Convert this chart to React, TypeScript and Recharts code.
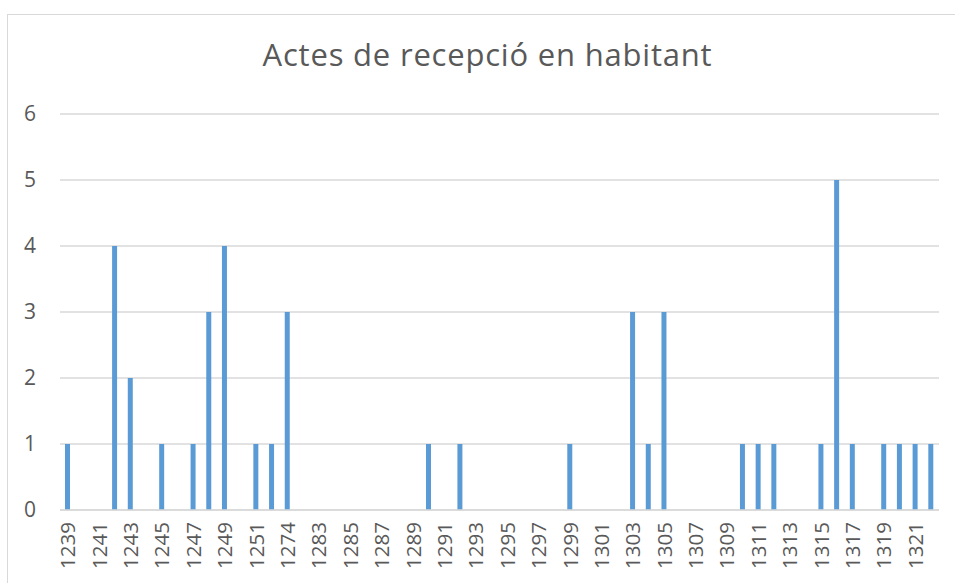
import React from "react";
import { BarChart, Bar, XAxis, YAxis, CartesianGrid } from "recharts";

const years = [
  "1239", "1240", "1241", "1242", "1243", "1244", "1245", "1246", "1247", "1248",
  "1249", "1250", "1251", "1253", "1274", "1282", "1283", "1284", "1285", "1286",
  "1287", "1288", "1289", "1290", "1291", "1292", "1293", "1294", "1295", "1296",
  "1297", "1298", "1299", "1300", "1301", "1302", "1303", "1304", "1305", "1306",
  "1307", "1308", "1309", "1310", "1311", "1312", "1313", "1314", "1315", "1316",
  "1317", "1318", "1319", "1320", "1321", "1322",
];
const counts = [
  1, 0, 0, 4, 2, 0, 1, 0, 1, 3,
  4, 0, 1, 1, 3, 0, 0, 0, 0, 0,
  0, 0, 0, 1, 0, 1, 0, 0, 0, 0,
  0, 0, 1, 0, 0, 0, 3, 1, 3, 0,
  0, 0, 0, 1, 1, 1, 0, 0, 1, 5,
  1, 0, 1, 1, 1, 1,
];
const yTicks = [0, 1, 2, 3, 4, 5, 6];
const title = "Actes de recepció en habitant";

const data = years.map((y, i) => ({ year: y, value: counts[i] }));

const FONT = "'Open Sans', 'Noto Sans', sans-serif";
const TXT = "#595959";

const XTick = (props: any) => {
  const { x, y, payload } = props;
  return (
    <g transform={`translate(${x},${y})`}>
      <text
        transform="rotate(-90)"
        x={-12}
        y={0}
        dy="0.36em"
        textAnchor="end"
        fill={TXT}
        fontSize={20.5}
        fontFamily={FONT}
      >
        {payload.value}
      </text>
    </g>
  );
};

export default function App() {
  return (
    <div
      style={{
        position: "fixed",
        left: 0,
        top: 0,
        width: 955,
        height: 583,
        overflow: "hidden",
        background: "#fff",
      }}
    >
      <div
        style={{
          position: "absolute",
          left: 7,
          top: 14,
          width: 1100,
          height: 1100,
          border: "1px solid #d9d9d9",
          boxSizing: "border-box",
        }}
      />
      <svg
        width={955}
        height={100}
        style={{ position: "absolute", left: 0, top: 0 }}
      >
        <text
          x={487.5}
          y={66}
          textAnchor="middle"
          fill={TXT}
          fontSize={31}
          letterSpacing={0.8}
          fontFamily={FONT}
        >
          {title}
        </text>
      </svg>
      <div style={{ position: "absolute", left: 0, top: 0 }}>
        <BarChart
          width={955}
          height={583}
          data={data}
          margin={{ top: 114, right: 16, bottom: 0, left: 0 }}
          barSize={5}
        >
          <CartesianGrid vertical={false} stroke="#d9d9d9" strokeWidth={1.5} />
          <XAxis
            dataKey="year"
            interval={1}
            height={73}
            tickLine={false}
            axisLine={{ stroke: "#d9d9d9", strokeWidth: 1.5 }}
            tickSize={0}
            tickMargin={0}
            tick={<XTick />}
          />
          <YAxis
            width={60}
            domain={[0, 6]}
            ticks={yTicks}
            tickLine={false}
            axisLine={false}
            tickSize={0}
            tickMargin={24}
            tick={{ fill: TXT, fontSize: 21, fontFamily: FONT }}
          />
          <Bar dataKey="value" fill="#5b9bd5" isAnimationActive={false} />
        </BarChart>
      </div>
    </div>
  );
}
